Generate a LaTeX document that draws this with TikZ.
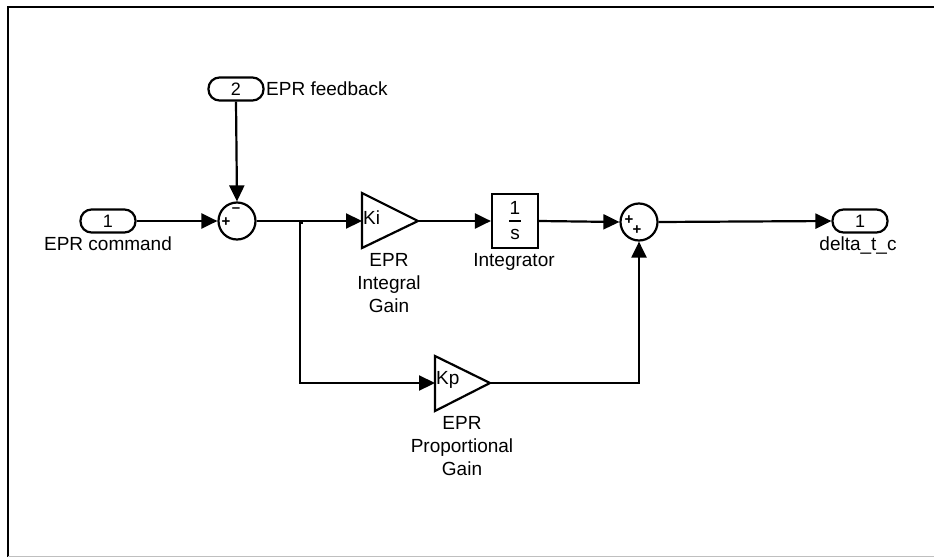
\documentclass[tikz,border=0pt]{standalone}
\usepackage{fontspec}
\setmainfont{Liberation Sans}
\usetikzlibrary{arrows.meta}
\begin{document}
\begin{tikzpicture}[x=1pt,y=-1pt,
  wire/.style={line width=2.2pt,-{Triangle[length=16pt,width=15pt]}},
  plain/.style={line width=2.2pt},
  port/.style={draw,line width=2.2pt,rounded corners=11pt,minimum width=55pt,minimum height=23pt,inner sep=0pt,font=\fontsize{18}{18}\selectfont},
  sumblk/.style={draw,circle,line width=2.2pt,minimum size=37pt,inner sep=0pt},
  lbl/.style={font=\fontsize{19}{23}\selectfont,align=center,inner sep=0pt},
  sgn/.style={font=\fontsize{15}{15}\selectfont\bfseries,inner sep=0pt},
  gain/.style={draw,line width=2.2pt,line join=miter}
]
\useasboundingbox (0,0) rectangle (934,557);
\fill[white] (0,0) rectangle (934,557);
% frame
\draw[line width=2.5pt] (8,557) -- (8,7) -- (934,7);
\draw[line width=0.8pt,black!25] (8,556) -- (934,556);

% inports / outports
\node[port] (in1) at (108,221) {1};
\node[lbl,anchor=north] (in1l) at (108,237) {EPR command};
\node[port] (in2) at (236,89) {2};
\node[lbl,anchor=west] (in2l) at (266,89) {EPR feedback};
\node[port] (out1) at (860,221) {1};
\node[lbl,anchor=north] (out1l) at (858,237) {delta\_t\_c};

% sum 1
\node[sumblk] (s1) at (237,221) {};
\node[sgn] (s1p) at (226,222) {+};
\node[sgn] (s1m) at (236,210) {\textendash};

% Ki gain
\draw[gain] (362,193) -- (418,221) -- (362,248) -- cycle;
\coordinate (kiin) at (362,221);
\coordinate (kiout) at (418,221);
\node[lbl,anchor=west] (kit) at (363,218) {Ki};
\node[lbl,anchor=north] (kil) at (389,253) {EPR\\Integral\\Gain};

% integrator
\node[draw,line width=2.2pt,minimum width=46pt,minimum height=54pt,inner sep=0pt] (int) at (515,221) {};
\node[lbl] (intn) at (515,208) {1};
\draw[line width=1.2pt] (509,221) -- (521,221);
\node[lbl] (ints) at (515,234) {s};
\node[lbl,anchor=north] (intl) at (514,253) {Integrator};

% sum 2
\node[sumblk] (s2) at (639,222) {};
\node[sgn] (s2a) at (629,220) {+};
\node[sgn] (s2b) at (637,230) {+};

% Kp gain
\draw[gain] (435,356) -- (490,383) -- (435,411) -- cycle;
\coordinate (kpin) at (435,383);
\coordinate (kpout) at (490,383);
\node[lbl,anchor=west] (kpt) at (436,380) {Kp};
\node[lbl,anchor=north] (kpl) at (462,416) {EPR\\Proportional\\Gain};

% connections
\coordinate (br) at (300,221);
\coordinate (brd) at (300,383);
\coordinate (cr) at (639,383);
\draw[wire] (in1.east) -- (s1.west);
\draw[wire] (in2.south) -- (s1.north);
\draw[plain] (s1.east) -- (br);
\draw[wire] (br) -- (kiin);
\draw[wire] (kiout) -- (int.west);
\draw[wire] (int.east) -- (s2.west);
\draw[wire] (s2.east) -- (out1.west);
\draw[wire] (br) -- (brd) -- (kpin);
\draw[wire] (kpout) -- (cr) -- (s2.south);
\fill (br) ++(-1.5,-1.5) rectangle ++(4.5,4.5);
\end{tikzpicture}
\end{document}
